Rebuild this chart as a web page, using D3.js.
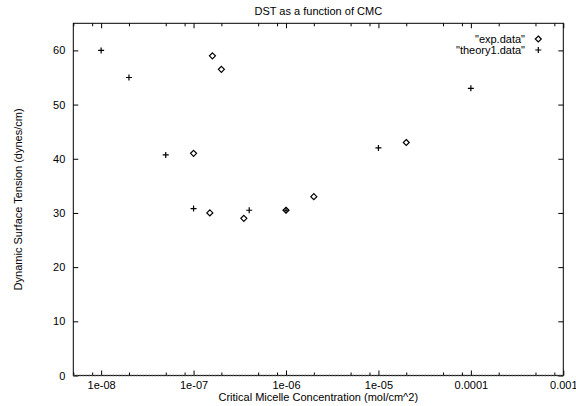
<!DOCTYPE html>
<html><head><meta charset="utf-8">
<script src="https://cdn.jsdelivr.net/npm/d3@7"></script>
<style>body{margin:0;background:#fff}svg{display:block}text{font-family:"Liberation Sans",Arial,Helvetica,sans-serif;fill:#000}</style>
</head><body><svg id="c" width="576" height="406"></svg>
<script>
const expX = [1e-7, 1.5e-7, 1.6e-7, 2e-7, 3.5e-7, 1e-6, 2e-6, 2e-5];
const expY = [41, 30, 59, 56.5, 29, 30.5, 33, 43];
const theoryX = [1e-8, 2e-8, 5e-8, 1e-7, 4e-7, 1e-6, 1e-5, 1e-4];
const theoryY = [60, 55, 40.7, 30.8, 30.5, 30.5, 42, 53];
const xMajorTicks = [1e-8, 1e-7, 1e-6, 1e-5, 1e-4, 1e-3];
const xTickLabels = ["1e-08", "1e-07", "1e-06", "1e-05", "0.0001", "0.001"];
const xMinorMult = [2, 5, 8];
const yTicks = [0, 10, 20, 30, 40, 50, 60];

const L = 73.3, R = 563.3, T = 23.3, B = 375.5;
const svg = d3.select("#c");
const x = d3.scaleLog().domain([5e-9, 1e-3]).range([L, R]);
const y = d3.scaleLinear().domain([0, 65]).range([B, T]);
const FS = 11;

const minors = [];
[1e-9, 1e-8, 1e-7, 1e-6, 1e-5, 1e-4].forEach(d => xMinorMult.forEach(m => {
  const v = d * m; if (v >= 5e-9 && v <= 1e-3) minors.push(v);
}));

function styleAxis(g) {
  g.select(".domain").remove();
  g.selectAll(".tick line").attr("stroke", "#000").attr("stroke-width", 1);
  g.selectAll("text").attr("font-size", FS).attr("font-family", '"Liberation Sans",Arial,sans-serif');
}

// bottom major
svg.append("g").attr("transform", `translate(0,${B})`)
  .call(d3.axisBottom(x).tickValues(xMajorTicks).tickSize(-5).tickPadding(6)
    .tickFormat((d, i) => xTickLabels[i]))
  .call(styleAxis);
// bottom minor
svg.append("g").attr("transform", `translate(0,${B})`)
  .call(d3.axisBottom(x).tickValues(minors).tickSize(-3).tickFormat(""))
  .call(styleAxis);
// top major/minor
svg.append("g").attr("transform", `translate(0,${T})`)
  .call(d3.axisTop(x).tickValues(xMajorTicks).tickSize(-5).tickFormat(""))
  .call(styleAxis);
svg.append("g").attr("transform", `translate(0,${T})`)
  .call(d3.axisTop(x).tickValues(minors).tickSize(-3).tickFormat(""))
  .call(styleAxis);
// left
svg.append("g").attr("transform", `translate(${L},0)`)
  .call(d3.axisLeft(y).tickValues(yTicks).tickSize(-5).tickPadding(8))
  .call(styleAxis);
// right
svg.append("g").attr("transform", `translate(${R},0)`)
  .call(d3.axisRight(y).tickValues(yTicks).tickSize(-5).tickFormat(""))
  .call(styleAxis);

// border
svg.append("rect").attr("x", L).attr("y", T).attr("width", R - L).attr("height", B - T)
  .attr("fill", "none").attr("stroke", "#000").attr("stroke-width", 1);
svg.append("line").attr("x1", L).attr("x2", R).attr("y1", y(0)).attr("y2", y(0))
  .attr("stroke", "#444").attr("stroke-width", 1.5).attr("stroke-dasharray", "2,1");

// titles
svg.append("text").attr("x", (L + R) / 2).attr("y", 15).attr("text-anchor", "middle")
  .attr("font-size", FS).text("DST as a function of CMC");
svg.append("text").attr("x", (L + R) / 2).attr("y", 401).attr("text-anchor", "middle")
  .attr("font-size", FS).text("Critical Micelle Concentration (mol/cm^2)");
svg.append("text").attr("transform", `translate(22,${(T + B) / 2}) rotate(-90)`)
  .attr("text-anchor", "middle").attr("font-size", FS).text("Dynamic Surface Tension (dynes/cm)");

// markers
const diamond = (cx, cy) => `M${cx},${cy - 3}L${cx + 3},${cy}L${cx},${cy + 3}L${cx - 3},${cy}Z`;
const plus = (cx, cy) => `M${cx - 3},${cy}H${cx + 3}M${cx},${cy - 3}V${cy + 3}`;

const expData = expX.map((v, i) => [v, expY[i]]);
const thData = theoryX.map((v, i) => [v, theoryY[i]]);

svg.append("g").selectAll("path").data(expData).join("path")
  .attr("d", d => diamond(x(d[0]), y(d[1])))
  .attr("fill", "none").attr("stroke", "#000").attr("stroke-width", 1.2);
svg.append("g").selectAll("path").data(thData).join("path")
  .attr("d", d => plus(x(d[0]), y(d[1])))
  .attr("fill", "none").attr("stroke", "#000").attr("stroke-width", 1.2);

// legend
const lx = 525, sx = 538.3;
svg.append("text").attr("x", lx).attr("y", 42.5).attr("text-anchor", "end").attr("font-size", FS).text('"exp.data"');
svg.append("path").attr("d", diamond(sx, 39)).attr("fill", "none").attr("stroke", "#000").attr("stroke-width", 1.2);
svg.append("text").attr("x", lx).attr("y", 53.5).attr("text-anchor", "end").attr("font-size", FS).text('"theory1.data"');
svg.append("path").attr("d", plus(sx, 50)).attr("fill", "none").attr("stroke", "#000").attr("stroke-width", 1.2);
</script></body></html>
